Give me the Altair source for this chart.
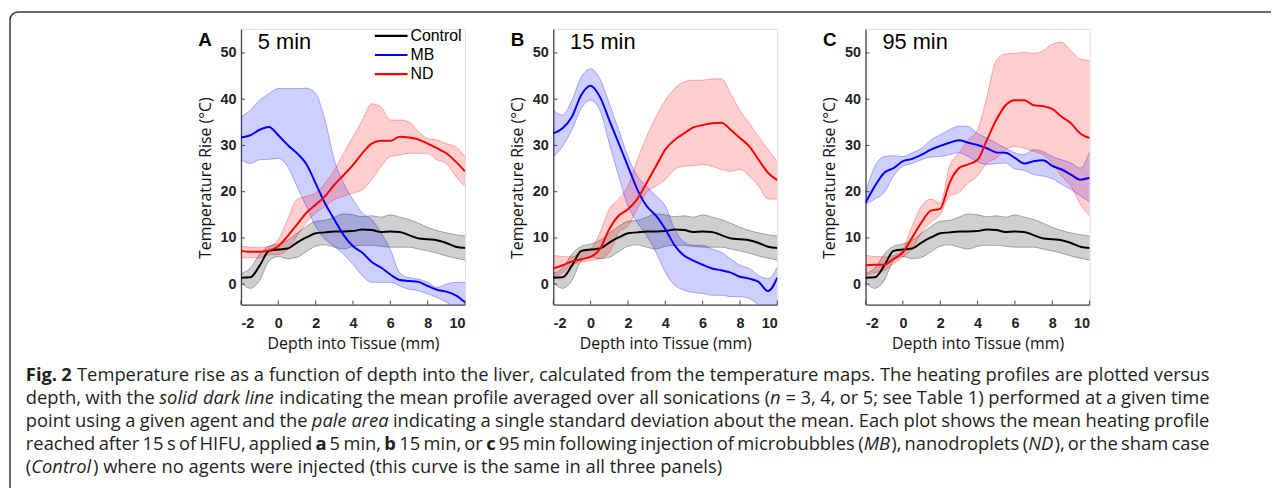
import altair as alt
import pandas as pd

# ---------------- data ----------------
DEPTH = [-2, -1.5, -1, -0.5, 0, 0.5, 1, 1.5, 2, 2.5, 3, 3.5, 4, 4.5, 5,
         5.5, 6, 6.5, 7, 7.5, 8, 8.5, 9, 9.5, 10]

CONTROL_MEAN = [1.4, 1.5, 4.0, 7.2, 7.5, 7.7, 9.0, 10.1, 11.0, 11.2, 11.4, 11.4, 11.5,
                11.8, 11.7, 11.3, 11.4, 11.3, 10.6, 9.9, 9.7, 9.5, 8.9, 8.1, 7.8]
CONTROL_LO = [0.4, -0.9, 0.8, 5.0, 6.0, 5.5, 5.8, 7.0, 8.2, 8.5, 8.0, 7.6, 8.2,
              8.4, 8.4, 8.2, 8.0, 8.0, 8.0, 7.6, 7.2, 6.7, 6.1, 5.6, 5.2]
CONTROL_HI = [2.3, 3.5, 6.5, 8.2, 8.7, 9.5, 11.0, 12.5, 13.6, 13.8, 14.5, 15.2, 15.0,
              14.6, 14.8, 14.5, 15.0, 14.5, 14.0, 13.2, 12.3, 11.6, 11.1, 10.7, 10.4]

MB_A_MEAN = [31.7, 32.2, 33.4, 34.0, 32.2, 30.1, 28.3, 26.0, 21.8, 17.5, 14.0, 10.6, 8.2,
             6.8, 4.8, 3.6, 2.1, 0.9, 0.7, 0.5, -0.4, -1.2, -1.6, -2.4, -3.9]
MB_A_HI = [36.2, 37.6, 39.8, 41.2, 42.3, 42.3, 42.3, 42.4, 41.2, 35.5, 26.9, 21.8, 18.3,
           15.4, 14.0, 11.1, 7.5, 2.5, 1.4, 1.1, 0.4, -0.7, 0.0, 0.4, 0.4]
MB_A_LO = [26.9, 26.1, 26.9, 27.0, 27.2, 25.4, 21.1, 16.8, 12.5, 9.7, 8.2, 6.4, 4.3,
           1.8, 0.4, 0.4, 0.4, -0.4, -1.1, -1.4, -2.1, -2.9, -3.9, -5.0, -6.0]

ND_A_MEAN = [7.2, 7.0, 7.0, 7.3, 8.2, 10.4, 12.9, 15.4, 17.2, 19.0, 21.5, 23.6, 25.8,
             28.3, 30.4, 31.0, 31.0, 31.9, 31.7, 31.3, 30.4, 29.4, 28.3, 26.5, 24.4]
ND_A_HI = [8.2, 8.0, 7.9, 8.2, 9.7, 14.0, 18.3, 19.0, 19.7, 21.8, 24.7, 28.3, 31.9,
           35.5, 39.0, 38.3, 35.5, 35.5, 35.1, 33.0, 31.5, 31.2, 30.4, 29.7, 27.6]
ND_A_LO = [5.7, 5.7, 5.7, 6.4, 6.4, 7.5, 10.4, 13.3, 15.4, 16.8, 18.3, 19.0, 19.7,
           20.4, 22.6, 25.4, 27.6, 27.9, 28.3, 28.3, 28.3, 26.9, 26.1, 23.3, 21.1]

MB_B_MEAN = [32.6, 33.7, 36.2, 40.9, 42.9, 40.5, 35.5, 30.5, 25.5, 20.5, 16.9, 14.8, 11.9,
             8.4, 6.2, 5.1, 4.2, 3.4, 3.0, 2.5, 1.6, 1.2, 0.5, -1.5, 1.4]
MB_B_HI = [37.6, 36.6, 39.8, 44.8, 46.6, 44.4, 39.1, 33.4, 27.6, 23.4, 21.2, 19.1, 16.9,
           11.9, 9.1, 8.4, 8.4, 7.6, 6.9, 5.5, 4.1, 3.4, 1.9, 1.2, 3.7]
MB_B_LO = [27.6, 29.8, 33.4, 38.0, 39.8, 37.6, 30.5, 23.4, 16.9, 13.4, 10.5, 6.9, 2.6,
           -0.2, -1.3, -1.8, -2.0, -2.4, -2.4, -2.7, -2.7, -3.1, -4.5, -6.0, -6.0]

ND_B_MEAN = [3.4, 4.1, 4.9, 5.4, 5.9, 7.6, 11.9, 14.8, 16.2, 18.4, 21.9, 25.5, 29.1,
             31.2, 32.6, 33.9, 34.4, 34.8, 34.9, 33.4, 31.6, 29.8, 26.9, 24.1, 22.5]
ND_B_HI = [6.2, 6.0, 5.9, 6.9, 7.6, 11.2, 16.2, 18.4, 21.2, 26.9, 31.9, 36.2, 39.8,
           42.3, 43.7, 44.1, 44.1, 44.4, 44.4, 41.2, 37.6, 34.8, 31.9, 29.1, 26.6]
ND_B_LO = [1.5, 2.5, 4.1, 4.8, 5.1, 5.5, 6.9, 11.2, 12.6, 16.2, 19.8, 21.2, 22.6,
           24.8, 25.5, 25.6, 25.9, 25.5, 24.8, 24.4, 24.8, 23.4, 21.2, 18.4, 18.4]

MB_C_MEAN = [17.6, 21.2, 24.1, 25.1, 26.6, 27.1, 28.0, 29.1, 29.9, 30.6, 31.1, 30.6, 30.1,
             29.4, 28.5, 28.4, 27.3, 26.1, 26.6, 26.8, 25.6, 24.8, 23.7, 22.6, 23.0]
MB_C_HI = [19.8, 25.5, 27.6, 27.8, 27.6, 28.4, 29.4, 31.2, 32.3, 33.4, 34.2, 34.1, 32.6,
           31.6, 30.5, 29.4, 28.4, 28.0, 29.1, 28.7, 27.6, 26.9, 26.2, 25.1, 28.7]
MB_C_LO = [17.3, 18.4, 19.8, 23.4, 25.5, 26.1, 26.9, 27.5, 27.6, 28.0, 28.4, 27.6, 26.4,
           25.9, 26.1, 26.2, 24.9, 24.6, 23.7, 23.4, 22.8, 21.6, 20.5, 19.1, 17.8]

ND_C_MEAN = [4.1, 4.2, 4.2, 5.5, 6.9, 10.1, 13.4, 15.9, 16.3, 21.9, 25.1, 25.9, 26.9,
             31.2, 35.5, 38.7, 39.8, 39.8, 38.7, 38.5, 37.9, 36.2, 34.8, 32.6, 31.6]
ND_C_HI = [6.2, 6.0, 5.9, 6.2, 7.6, 12.6, 16.9, 18.4, 17.5, 25.5, 28.4, 31.2, 33.4,
           40.5, 48.4, 49.8, 49.9, 50.1, 49.9, 50.5, 51.9, 52.3, 50.5, 48.7, 48.4]
ND_C_LO = [1.9, 2.5, 3.0, 4.4, 5.9, 7.6, 11.2, 13.4, 15.1, 19.1, 19.8, 21.9, 23.4,
           26.2, 27.3, 29.1, 29.8, 29.4, 28.7, 28.0, 26.2, 23.4, 21.2, 17.3, 14.8]

SERIES = ["Control", "MB", "ND"]
LINE_COLORS = ["#000000", "#0000ff", "#ff0000"]
X_TICKS = [-2, 0, 2, 4, 6, 8, 10]
Y_TICKS = [0, 10, 20, 30, 40, 50]
PANEL_LETTERS = ["A", "B", "C"]
PANEL_TITLES = ["5 min", "15 min", "95 min"]

# caption lines: "_" toggles italic, "^" toggles bold
CAPTION_LINES = [
    "^Fig. 2^ Temperature rise as a function of depth into the liver, calculated from the temperature maps. The heating profiles are plotted versus",
    "depth, with the _solid dark line_ indicating the mean profile averaged over all sonications (_n_ = 3, 4, or 5; see Table 1) performed at a given time",
    "point using a given agent and the _pale area_ indicating a single standard deviation about the mean. Each plot shows the mean heating profile",
    "reached after 15 s of HIFU, applied ^a^ 5 min, ^b^ 15 min, or ^c^ 95 min following injection of microbubbles (_MB_), nanodroplets (_ND_), or the sham case",
    "(_Control_) where no agents were injected (this curve is the same in all three panels)",
]

# ---------------- layout constants ----------------
W, H = 226, 278
XDOM = [-2, 10]
YDOM = [-4.4, 55.2]
ORIGIN_X, ORIGIN_Y = 242, 28          # page position of panel A plot area
CAP_FONT = "Open Sans"
CAP_SIZE = 18.5
CAP_BASE = 383
CAP_STEP = 23.2
CAP_LEFT, CAP_RIGHT = 25, 1219

# approximate Open Sans advance widths (em)
CW = {" ": 0.26, "(": 0.296, ")": 0.296, ",": 0.245, "-": 0.322, ".": 0.266, ";": 0.266,
      "=": 0.572, ":": 0.266,
      "A": 0.633, "B": 0.648, "C": 0.631, "D": 0.729, "E": 0.556, "F": 0.516, "H": 0.738,
      "I": 0.279, "M": 0.903, "N": 0.754, "T": 0.553, "U": 0.728,
      "a": 0.556, "b": 0.613, "c": 0.476, "d": 0.613, "e": 0.561, "f": 0.339, "g": 0.548,
      "h": 0.614, "i": 0.253, "j": 0.253, "k": 0.525, "l": 0.253, "m": 0.930, "n": 0.614,
      "o": 0.604, "p": 0.613, "q": 0.613, "r": 0.408, "s": 0.477, "t": 0.353, "u": 0.614,
      "v": 0.501, "w": 0.778, "x": 0.524, "y": 0.502, "z": 0.477}
for _d in "0123456789":
    CW[_d] = 0.572


def run_width(s, italic, bold):
    f = 1.0
    if bold:
        f = 1.05
    if italic:
        f = 0.97
    return sum(CW.get(ch, 0.56) for ch in s) * CAP_SIZE * f


def parse_words(line):
    words, runs, buf = [], [], ""
    italic = bold = False
    for ch in line + " ":
        if ch in "_^ ":
            if buf:
                runs.append((buf, italic, bold))
                buf = ""
            if ch == "_":
                italic = not italic
            elif ch == "^":
                bold = not bold
            elif runs:
                words.append(runs)
                runs = []
        else:
            buf += ch
    return words


def txt(s, x, y, size, font, weight="normal", style="normal", color="#000000",
        align="left", baseline="alphabetic"):
    return alt.Chart(pd.DataFrame({"t": [s]})).mark_text(
        align=align, baseline=baseline, fontSize=size, font=font,
        fontWeight=weight, fontStyle=style, color=color
    ).encode(x=alt.value(x), y=alt.value(y), text="t:N")


XSCALE = alt.Scale(domain=XDOM, nice=False, zero=False)
YSCALE = alt.Scale(domain=YDOM, nice=False, zero=False)
CSCALE = alt.Scale(domain=SERIES, range=LINE_COLORS)
XAX = alt.Axis(values=X_TICKS, title="Depth into Tissue (mm)",
               labelExpr="'' + datum.value", ticks=False,
               grid=False, labelPadding=12, titlePadding=6,
               labelFont="Liberation Sans", labelFontSize=14.5,
               labelFontWeight="bold", labelColor="#222222",
               titleFont="Open Sans", titleFontSize=16,
               titleFontWeight="normal", titleColor="#111111",
               domainColor="#444444", domainWidth=1.3)
YAX = alt.Axis(values=Y_TICKS, title="Temperature Rise (°C)", ticks=False,
               grid=False, labelPadding=5, titlePadding=7, titleY=150,
               labelFont="Liberation Sans", labelFontSize=14.5,
               labelFontWeight="bold", labelColor="#222222",
               titleFont="Open Sans", titleFontSize=16,
               titleFontWeight="normal", titleColor="#111111",
               domainColor="#444444", domainWidth=1.3)


def panel(idx, mb, nd, extras=()):
    rows = []
    sets = [(CONTROL_MEAN, CONTROL_LO, CONTROL_HI), mb, nd]
    for name, (m, lo, hi) in zip(SERIES, sets):
        for d, a, b, c in zip(DEPTH, m, lo, hi):
            rows.append(dict(depth=d, mean=a, lo=b, hi=c, series=name))
    df = pd.DataFrame(rows)
    base = alt.Chart(df)

    xenc = alt.X("depth:Q", scale=XSCALE, axis=XAX)

    bands = base.mark_area(opacity=0.19, interpolate="monotone", clip=True).encode(
        x=xenc,
        y=alt.Y("lo:Q", scale=YSCALE, axis=YAX),
        y2="hi:Q",
        fill=alt.Fill("series:N", scale=CSCALE, legend=None),
    )
    edge_lo = base.mark_line(opacity=0.3, strokeWidth=1, interpolate="monotone", clip=True).encode(
        x=xenc, y=alt.Y("lo:Q", scale=YSCALE, axis=YAX),
        color=alt.Color("series:N", scale=CSCALE, legend=None))
    edge_hi = base.mark_line(opacity=0.3, strokeWidth=1, interpolate="monotone", clip=True).encode(
        x=xenc, y=alt.Y("hi:Q", scale=YSCALE, axis=YAX),
        color=alt.Color("series:N", scale=CSCALE, legend=None))
    lines = base.mark_line(strokeWidth=2, interpolate="monotone", clip=True).encode(
        x=xenc, y=alt.Y("mean:Q", scale=YSCALE, axis=YAX),
        color=alt.Color("series:N", scale=CSCALE, legend=None))

    xt = alt.Chart(pd.DataFrame({"t": X_TICKS})).mark_rule(color="#444444", strokeWidth=1).encode(
        x=alt.X("t:Q", scale=XSCALE, axis=XAX),
        y=alt.value(H), y2=alt.value(H - 4))
    yt = alt.Chart(pd.DataFrame({"v": Y_TICKS})).mark_rule(color="#444444", strokeWidth=1).encode(
        y=alt.Y("v:Q", scale=YSCALE, axis=YAX),
        x=alt.value(0), x2=alt.value(4))

    letter = txt(PANEL_LETTERS[idx], -43, 17, 19, "Liberation Sans", weight="bold")
    title = txt(PANEL_TITLES[idx], 17, 20, 22, "Liberation Sans")

    layers = [bands, edge_lo, edge_hi, lines, xt, yt, letter, title] + list(extras)
    return alt.layer(*layers).properties(width=W, height=H)


# ---------- legend (panel A) ----------
legend_layers = []
for i, (name, col) in enumerate(zip(SERIES, LINE_COLORS)):
    yy = 7 + i * 19.3
    legend_layers.append(
        alt.Chart(pd.DataFrame({"n": [name]})).mark_rule(color=col, strokeWidth=2.2).encode(
            x=alt.value(135), x2=alt.value(168), y=alt.value(yy)))
    legend_layers.append(txt(name, 171, yy, 16, "Liberation Sans", baseline="middle"))

# ---------- frame (rounded top-left border of the figure box) ----------
FR_L, FR_T, RAD = 9 - ORIGIN_X, 11 - ORIGIN_Y, 8
one = pd.DataFrame({"k": [0]})
frame = [
    alt.Chart(one).mark_rule(color="#3a3a3a", strokeWidth=1.5).encode(
        x=alt.value(FR_L + RAD), x2=alt.value(1281 - ORIGIN_X), y=alt.value(FR_T)),
    alt.Chart(one).mark_rule(color="#3a3a3a", strokeWidth=1.5).encode(
        x=alt.value(FR_L), y=alt.value(FR_T + RAD), y2=alt.value(491 - ORIGIN_Y)),
    alt.Chart(one).mark_arc(theta=4.712389, theta2=6.283185, innerRadius=RAD - 0.75,
                            outerRadius=RAD + 0.75, color="#3a3a3a").encode(
        x=alt.value(FR_L + RAD), y=alt.value(FR_T + RAD)),
]

# ---------- caption (justified, word by word) ----------
caption_layers = []
for li, line in enumerate(CAPTION_LINES):
    words = parse_words(line)
    widths = [sum(run_width(t, it, bd) for t, it, bd in w) for w in words]
    if li < len(CAPTION_LINES) - 1:
        gap = (CAP_RIGHT - CAP_LEFT - sum(widths)) / (len(words) - 1)
    else:
        gap = 0.26 * CAP_SIZE
    ybase = CAP_BASE + li * CAP_STEP - ORIGIN_Y
    x = CAP_LEFT
    for w, wd in zip(words, widths):
        rx = x
        for t, it, bd in w:
            caption_layers.append(
                txt(t, rx - ORIGIN_X, ybase, CAP_SIZE, CAP_FONT,
                    weight="bold" if bd else "normal",
                    style="italic" if it else "normal", color="#231f20"))
            rx += run_width(t, it, bd)
        x += wd + gap

pA = panel(0, (MB_A_MEAN, MB_A_LO, MB_A_HI), (ND_A_MEAN, ND_A_LO, ND_A_HI),
           extras=legend_layers + frame + caption_layers)
pB = panel(1, (MB_B_MEAN, MB_B_LO, MB_B_HI), (ND_B_MEAN, ND_B_LO, ND_B_HI))
pC = panel(2, (MB_C_MEAN, MB_C_LO, MB_C_HI), (ND_C_MEAN, ND_C_LO, ND_C_HI))

chart = alt.hconcat(pA, pB, pC, spacing=89, bounds="flush").properties(
    padding={"left": 0, "top": 0, "right": 0, "bottom": 0}
).configure_view(stroke="transparent").configure(background="white")

chart.save("out.html", embed_options={"renderer": "svg", "actions": False})
